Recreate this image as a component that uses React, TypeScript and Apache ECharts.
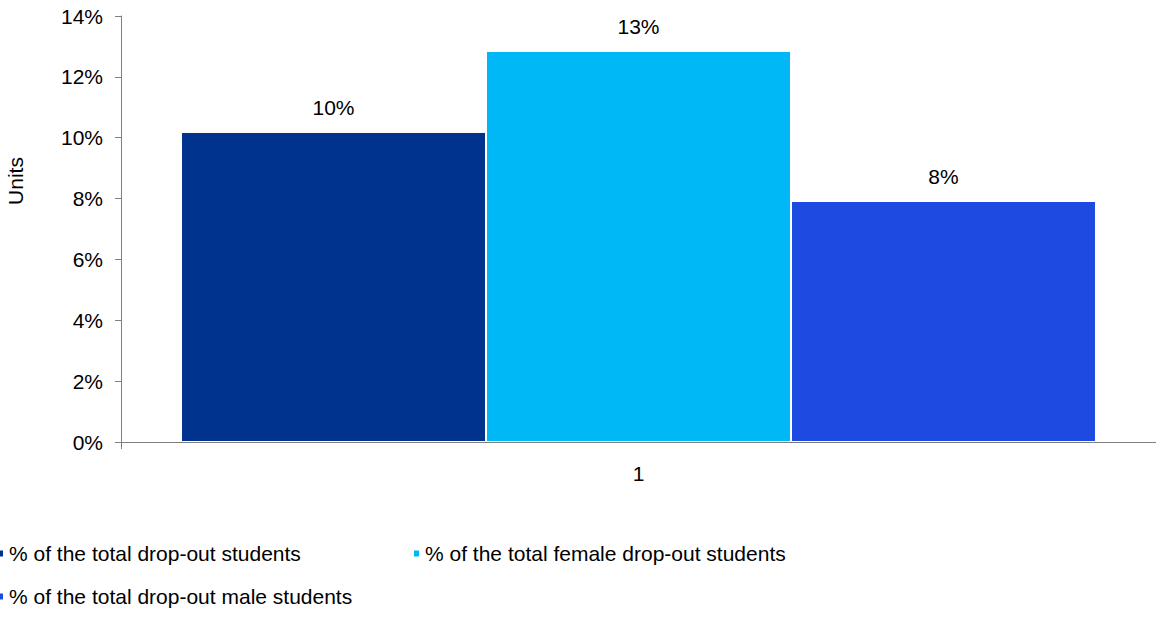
import React, { useEffect, useRef } from "react";
import * as echarts from "echarts";

const categories = ["1"];
const seriesNames = [
  "% of the total drop-out students",
  "% of the total female drop-out students",
  "% of the total drop-out male students",
];
const seriesValues = [[10.19], [12.85], [7.92]];
const seriesColors = ["#00338D", "#00B8F5", "#1E4AE2"];
const yTicks = { min: 0, max: 14, interval: 2 };

export default function App() {
  const ref = useRef<HTMLDivElement>(null);
  useEffect(() => {
    if (!ref.current) return;
    const chart = echarts.init(ref.current, null, { renderer: "svg" });
    const font = "Liberation Sans, Arial, sans-serif";
    const fs = 21;
    chart.setOption({
      animation: false,
      backgroundColor: "#ffffff",
      textStyle: { fontFamily: font },
      grid: { left: 121, right: 0, top: 16, bottom: 176, containLabel: false },
      xAxis: {
        type: "category",
        data: categories,
        axisLine: { lineStyle: { color: "#7f7f7f", width: 1 } },
        axisTick: { show: true, length: 7, lineStyle: { color: "#7f7f7f" } },
        axisLabel: { color: "#000", fontSize: fs, fontFamily: font, margin: 21 },
      },
      yAxis: {
        type: "value",
        min: yTicks.min,
        max: yTicks.max,
        interval: yTicks.interval,
        splitLine: { show: false },
        axisLine: { show: true, lineStyle: { color: "#7f7f7f", width: 1 } },
        axisTick: { show: true, length: 6, lineStyle: { color: "#7f7f7f" } },
        axisLabel: { color: "#000", fontSize: fs, fontFamily: font, margin: 18, formatter: "{value}%" },
      },
      legend: seriesNames.map((name, i) => ({
        data: [name],
        left: i === 1 ? 412 : -4,
        top: i === 2 ? 586 : 543,
        itemWidth: 7,
        itemHeight: 8,
        icon: "rect",
        textStyle: { color: "#000", fontSize: fs, fontFamily: font },
        padding: 0,
      })),
      graphic: [
        {
          type: "text",
          x: 15,
          y: 181,
          rotation: Math.PI / 2,
          style: {
            text: "Units",
            fontSize: fs,
            fontFamily: font,
            fill: "#000",
            align: "center",
            verticalAlign: "middle",
          },
        },
      ],
      series: seriesNames.map((name, i) => ({
        name,
        type: "bar",
        data: seriesValues[i],
        barGap: "0%",
        barCategoryGap: "11.6%",
        itemStyle: { color: seriesColors[i], borderColor: "#ffffff", borderWidth: 1 },
        label: {
          show: true,
          position: "top",
          distance: 14,
          color: "#000",
          fontSize: fs,
          fontFamily: font,
          formatter: (p: any) => Math.round(p.value) + "%",
        },
      })),
    });
    return () => chart.dispose();
  }, []);
  return (
    <div
      ref={ref}
      style={{ position: "fixed", left: 0, top: 0, width: 1156, height: 618 }}
    />
  );
}
